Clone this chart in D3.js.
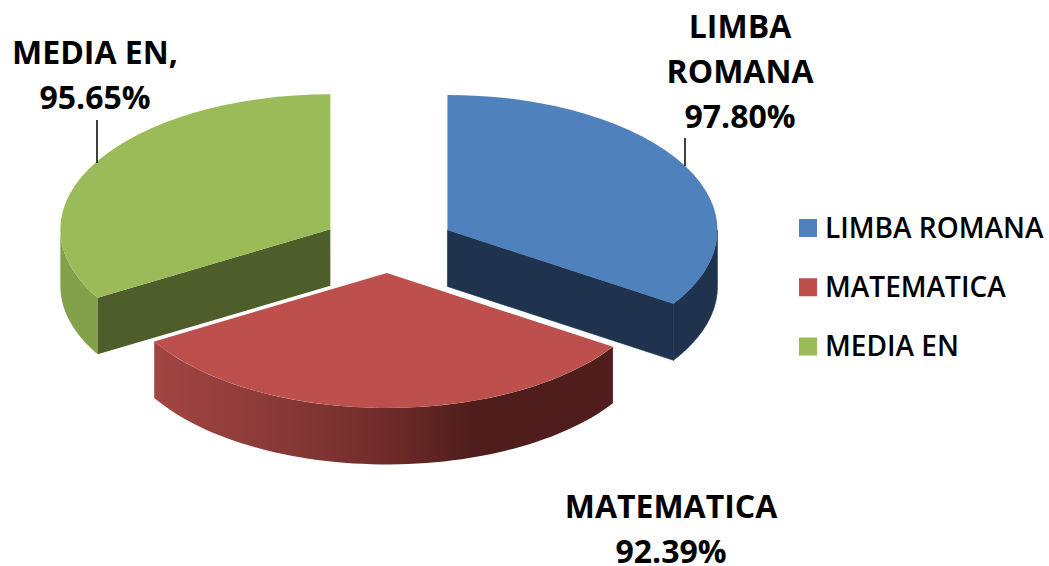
<!DOCTYPE html>
<html>
<head>
<meta charset="utf-8">
<script src="https://cdn.jsdelivr.net/npm/d3@7"></script>
<style>
  html, body { margin: 0; padding: 0; background: #fff; }
  svg { display: block; }
  text { font-family: "Open Sans", sans-serif; fill: #000; }
</style>
</head>
<body>
<div id="wrapper"></div>
<script>
const categories = ["LIMBA ROMANA", "MATEMATICA", "MEDIA EN"];
const values = [97.80, 92.39, 95.65];
const labelLines = [
  ["LIMBA", "ROMANA", "97.80%"],
  ["MATEMATICA", "92.39%"],
  ["MEDIA EN,", "95.65%"]
];
const topColors = ["#4f81bd", "#bd4f4c", "#9bbb59"];

const width = 1049;
const height = 566;
const cx = 388.5;
const cy = 243.8;
const rx = 270;
const ry = 135;
const depth = 56.5;
const explode = 67;
const explodeTilt = 0.435;

const wrapper = d3.select("#wrapper")
  .append("svg")
  .attr("width", width)
  .attr("height", height);

const defs = wrapper.append("defs");
const redWall = defs.append("linearGradient")
  .attr("id", "redWall")
  .attr("gradientUnits", "userSpaceOnUse")
  .attr("x1", 155).attr("x2", 613)
  .attr("y1", 0).attr("y2", 0);
[[0, "#a24543"], [0.3, "#853836"], [0.5, "#702c2a"], [0.69, "#4f1e1c"], [1, "#4f1e1c"]]
  .forEach(s => redWall.append("stop").attr("offset", s[0]).attr("stop-color", s[1]));

const pie = d3.pie().sort(null).value(d => d);
const arcs = pie(values);

const slices = arcs.map((d, i) => {
  const mid = (d.startAngle + d.endAngle) / 2;
  return {
    ...d,
    i,
    ox: cx + explode * Math.sin(mid),
    oy: cy - explode * explodeTilt * Math.cos(mid)
  };
});

const rimX = (s, a) => s.ox + rx * Math.sin(a);
const rimY = (s, a) => s.oy - ry * Math.cos(a);
const line = d3.line().x(d => d[0]).y(d => d[1]);

// outer wall: the part of the rim facing the viewer (angle between 90 and 270 deg)
function wallPath(s) {
  const a0 = Math.max(s.startAngle, Math.PI / 2);
  const a1 = Math.min(s.endAngle, Math.PI * 1.5);
  const steps = d3.range(0, 61).map(k => a0 + (a1 - a0) * k / 60);
  const upper = steps.map(a => [rimX(s, a), rimY(s, a)]);
  const lower = steps.slice().reverse().map(a => [rimX(s, a), rimY(s, a) + depth]);
  return line(upper.concat(lower)) + "Z";
}

// flat cut side, from the apex out to the rim
function cutPath(s, a) {
  return line([
    [s.ox, s.oy],
    [rimX(s, a), rimY(s, a)],
    [rimX(s, a), rimY(s, a) + depth],
    [s.ox, s.oy + depth]
  ]) + "Z";
}

const wallColors = ["#1f334f", "url(#redWall)", "#83a14a"];
const cutColors = ["#1f334f", "#4f1e1c", "#4e5e2b"];

const faceArc = d3.arc().innerRadius(0).outerRadius(rx);

const bounds = wrapper.append("g");
const sliceGroups = bounds.selectAll("g.slice")
  .data([slices[2], slices[0], slices[1]])
  .enter()
  .append("g")
  .attr("class", "slice");

sliceGroups.append("path")
  .attr("d", d => wallPath(d))
  .attr("fill", d => wallColors[d.i])
  .attr("stroke", d => d.i === 0 ? wallColors[0] : "none")
  .attr("stroke-width", 0.6);

sliceGroups.append("path")
  .attr("d", d => cutPath(d, d.i === 0 ? d.endAngle : d.startAngle))
  .attr("fill", d => d.i === 1 ? "none" : cutColors[d.i])
  .attr("stroke", d => d.i === 0 ? cutColors[0] : "none")
  .attr("stroke-width", 0.6);

sliceGroups.append("path")
  .attr("transform", d => `translate(${d.ox},${d.oy}) scale(1,${ry / rx})`)
  .attr("d", d => faceArc(d))
  .attr("fill", d => topColors[d.i]);

// leader lines
const leaders = [[685, 138, 166], [97, 120, 163]];
bounds.selectAll("line.leader")
  .data(leaders)
  .enter()
  .append("line")
  .attr("class", "leader")
  .attr("x1", d => d[0]).attr("x2", d => d[0])
  .attr("y1", d => d[1]).attr("y2", d => d[2])
  .attr("stroke", "#000")
  .attr("stroke-width", 1.5);

// data labels
const labelPos = [[740, 37.5], [671, 518], [95, 63.5]];
const labelGroups = wrapper.selectAll("text.label")
  .data(labelLines)
  .enter()
  .append("text")
  .attr("class", "label")
  .attr("text-anchor", "middle")
  .style("font-size", "32px")
  .style("font-weight", 700);
labelGroups.selectAll("tspan")
  .data((d, i) => d.map((t, k) => ({ t, k, i })))
  .enter()
  .append("tspan")
  .attr("x", d => labelPos[d.i][0])
  .attr("y", d => labelPos[d.i][1] + d.k * 45.3)
  .text(d => d.t);

// legend
const legendY = d3.scalePoint()
  .domain(categories)
  .range([228, 346.5]);
const legend = wrapper.selectAll("g.legend")
  .data(categories)
  .enter()
  .append("g")
  .attr("class", "legend")
  .attr("transform", d => `translate(799,${legendY(d)})`);
legend.append("rect")
  .attr("y", -9)
  .attr("width", 18)
  .attr("height", 18)
  .attr("fill", (d, i) => topColors[i]);
legend.append("text")
  .attr("x", 26)
  .attr("y", 9.5)
  .style("font-size", "28px")
  .style("font-weight", 600)
  .text(d => d);
</script>
</body>
</html>
